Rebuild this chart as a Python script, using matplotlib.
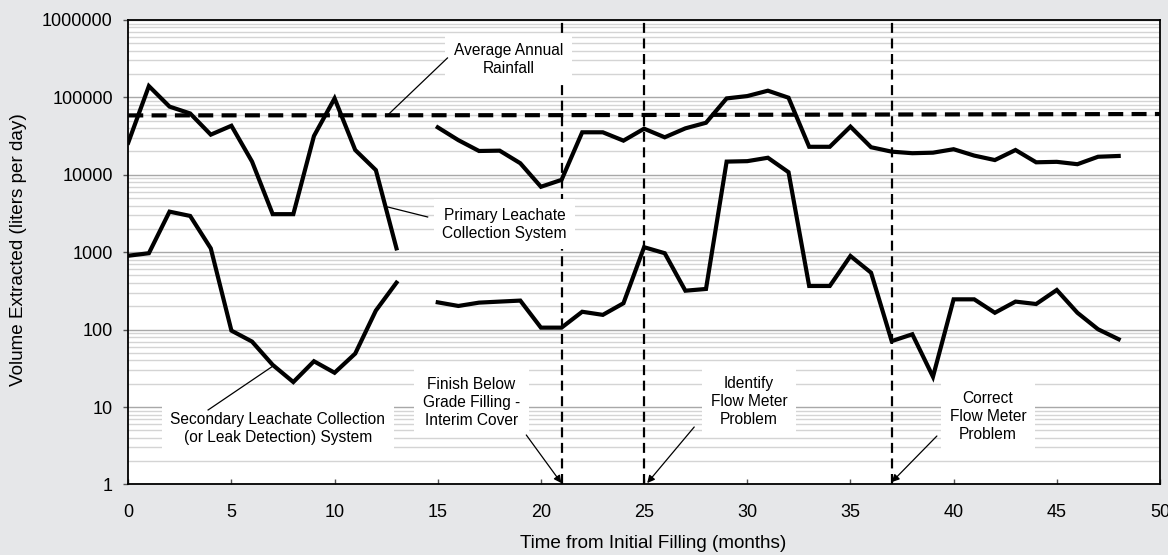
import numpy as np
import matplotlib
matplotlib.use("Agg")
import matplotlib.pyplot as plt
from matplotlib.ticker import FixedLocator, LogLocator, NullFormatter

plt.rcParams['font.family'] = ['Liberation Sans', 'DejaVu Sans']

# Monthly extraction volumes (liters per day)
primary_months_a = [0, 1, 2, 3, 4, 5, 6, 7, 8, 9, 10, 11, 12, 13]
primary_a = [26000, 140000, 76000, 62000, 33000, 43000, 14800, 3100, 3100,
             31700, 97000, 20900, 11500, 1120]
primary_months_b = list(range(15, 49))
primary_b = [41000, 28000, 20300, 20500, 14100, 7000, 8600, 35400, 35400,
             27600, 39400, 30500, 39800, 47000, 97000, 104000, 122000, 99000,
             23000, 23000, 41900, 22700, 19900, 19000, 19300, 21400, 17700,
             15500, 20900, 14500, 14700, 13700, 17100, 17500]

secondary_months_a = [0, 1, 2, 3, 4, 5, 6, 7, 8, 9, 10, 11, 12, 13]
secondary_a = [900, 970, 3340, 2940, 1120, 97, 70, 35, 21, 39, 27.7, 49,
               176, 404]
secondary_months_b = list(range(15, 49))
secondary_b = [225, 202, 223, 230, 237, 106, 106, 170, 155, 219, 1160, 970,
               318, 335, 14800, 15000, 16600, 10800, 366, 366, 893, 543, 71,
               87, 24.6, 246, 246, 165, 230, 214, 325, 165, 101, 75]

rain_months = [0, 10, 20, 30, 40, 50]
rain = [58500, 58700, 58900, 59600, 60300, 61000]

event_months = [21, 25, 37]

x_ticks = list(range(0, 51, 5))
y_ticks = [1, 10, 100, 1000, 10000, 100000, 1000000]
y_tick_labels = ['1', '10', '100', '1000', '10000', '100000', '1000000']

fig = plt.figure(figsize=(11.68, 5.55), dpi=100, facecolor='#e6e7e9')
ax = fig.add_axes([0.1098, 0.1272, 0.8833, 0.8368])
ax.set_facecolor('white')

ax.set_yscale('log')
ax.set_xlim(0, 50)
ax.set_ylim(1, 1000000)

# Grid: decades darker, 2..9 lighter
ax.yaxis.set_minor_locator(LogLocator(base=10, subs=np.arange(2, 10)))
ax.yaxis.set_minor_formatter(NullFormatter())
ax.grid(True, which='major', axis='y', color='#a8a8a8', lw=1.0, zorder=0)
ax.grid(True, which='minor', axis='y', color='#d4d4d4', lw=1.0, zorder=0)
ax.set_axisbelow(True)

ax.yaxis.set_major_locator(FixedLocator(y_ticks))
ax.set_yticklabels(y_tick_labels)
ax.set_xticks(x_ticks)
ax.tick_params(axis='y', which='major', direction='out', length=3.6, width=1,
               color='#555555', pad=7.5, labelsize=13)
ax.tick_params(axis='y', which='minor', length=0)
ax.tick_params(axis='x', direction='in', length=3.6, width=1,
               color='#555555', pad=14, labelsize=13)

for s in ax.spines.values():
    s.set_color('black')
    s.set_linewidth(1.3)

# Event markers
for m in event_months:
    ax.axvline(m, color='black', lw=1.6, ls=(0, (4.5, 2.5)), zorder=2)

# Data series
line_kw = dict(color='black', lw=3.0, solid_joinstyle='miter', zorder=5)
ax.plot(primary_months_a, primary_a, **line_kw)
ax.plot(primary_months_b, primary_b, **line_kw)
ax.plot(secondary_months_a, secondary_a, **line_kw)
ax.plot(secondary_months_b, secondary_b, **line_kw)
ax.plot(rain_months, rain, color='black', lw=3.0, ls=(0, (3.6, 2.0)),
        dash_capstyle='butt', zorder=5)

box = dict(boxstyle='square,pad=0.55', fc='white', ec='none')
txt_kw = dict(ha='center', va='center', fontsize=11.2, linespacing=1.25,
              bbox=box, zorder=4)

ax.text(18.43, 3.13e5, 'Average Annual\nRainfall', **txt_kw)
ax.text(18.23, 2310, 'Primary Leachate\nCollection System', **txt_kw)
ax.text(7.25, 5.35, 'Secondary Leachate Collection\n(or Leak Detection) System',
        **txt_kw)
ax.text(16.64, 11.3, 'Finish Below\nGrade Filling -\nInterim Cover', **txt_kw)
ax.text(30.09, 11.9, 'Identify\nFlow Meter\nProblem', **txt_kw)
ax.text(41.66, 7.65, 'Correct\nFlow Meter\nProblem', **txt_kw)

# Leader lines
ax.plot([15.47, 12.6], [3.23e5, 6.0e4], color='black', lw=0.9, zorder=4)
ax.plot([14.51, 12.57], [2850, 3840], color='black', lw=0.9, zorder=4)
ax.plot([3.87, 7.09], [9.15, 34.9], color='black', lw=0.9, zorder=4)

arrow_kw = dict(arrowstyle='-|>', color='black', lw=0.9, mutation_scale=11,
                shrinkA=0, shrinkB=0)
ax.annotate('', xy=(20.99, 1.04), xytext=(19.29, 4.35),
            arrowprops=arrow_kw, zorder=6)
ax.annotate('', xy=(25.15, 1.04), xytext=(27.43, 5.52),
            arrowprops=arrow_kw, zorder=6)
ax.annotate('', xy=(37.0, 1.07), xytext=(39.19, 4.22),
            arrowprops=arrow_kw, zorder=6)

fig.text(18.3 / 1168, 1 - 250 / 555, 'Volume Extracted (liters per day)',
         rotation=90, ha='center', va='center', fontsize=13.6)
fig.text(653 / 1168, 1 - 544 / 555, 'Time from Initial Filling (months)',
         ha='center', va='center', fontsize=13.6)

fig.savefig('out.png', dpi=100, facecolor=fig.get_facecolor())
